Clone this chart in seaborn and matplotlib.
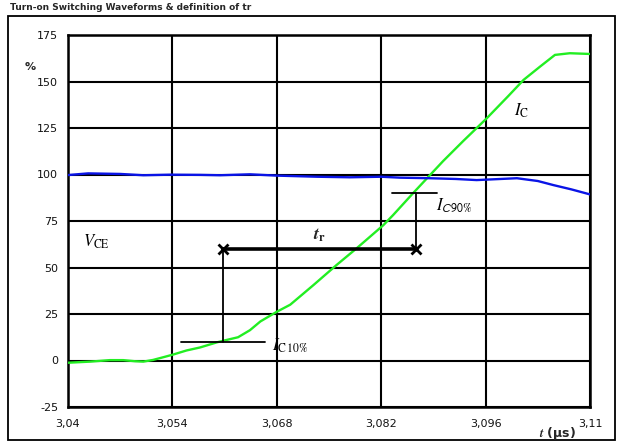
import numpy as np
import pandas as pd
import matplotlib
matplotlib.use("Agg")
import matplotlib.pyplot as plt
from matplotlib.patches import Rectangle
import seaborn as sns

# ---------------- data ----------------
ic_t = [3.0400, 3.0430, 3.0456, 3.0474, 3.0490, 3.0501, 3.0514, 3.0530, 3.0541,
        3.0559, 3.0577, 3.0600, 3.0608, 3.0628, 3.0644, 3.0658, 3.0680, 3.0698,
        3.0729, 3.0760, 3.0787, 3.0823, 3.0836, 3.0864, 3.0885, 3.0903,
        3.0930, 3.0961, 3.0990, 3.1011, 3.1033, 3.1053, 3.1073, 3.1100]
ic_v = [-1.2, -0.6, 0.2, 0.2, -0.4, -0.6, 0.3, 2.0, 3.2,
        5.4, 7.0, 9.8, 10.6, 12.5, 16.3, 21.0, 26.2, 30.0,
        40.5, 51.3, 60.3, 72.8, 78.2, 90.5, 99.5, 107.2,
        118.0, 130.0, 142.0, 150.9, 158.0, 164.3, 165.2, 164.8]

vce_t = [3.0400, 3.0427, 3.0470, 3.0501, 3.0537, 3.0577, 3.0604, 3.0644, 3.0680,
         3.0734, 3.0778, 3.0820, 3.0845, 3.0885, 3.0920, 3.0948, 3.0975,
         3.1002, 3.1030, 3.1051, 3.1075, 3.1100]
vce_v = [99.7, 100.6, 100.3, 99.6, 99.9, 99.8, 99.6, 100.1, 99.4,
         98.8, 98.5, 98.8, 98.3, 98.0, 97.6, 97.0, 97.5,
         98.0, 96.5, 94.3, 92.0, 89.3]

x_ticks = [3.04, 3.054, 3.068, 3.082, 3.096, 3.11]
x_tick_labels = ["3,04", "3,054", "3,068", "3,082", "3,096", "3,11"]
y_ticks = [-25, 0, 25, 50, 75, 100, 125, 150, 175]

t10 = 3.0608   # I_C = 10 %
t90 = 3.0866   # I_C = 90 %
tr_level = 60
lvl10, lvl90 = 10, 90

# ---------------- figure ----------------
sns.set_theme(style="white")
plt.rcParams["font.family"] = ["DejaVu Sans"]
plt.rcParams["mathtext.fontset"] = "stix"

fig = plt.figure(figsize=(6.24, 4.46), dpi=100)
ax = fig.add_axes([68/624, 1-407/446, (590-68)/624, (407-35)/446])

df_ic = pd.DataFrame({"t": ic_t, "v": ic_v})
df_vce = pd.DataFrame({"t": vce_t, "v": vce_v})
sns.lineplot(data=df_ic, x="t", y="v", ax=ax, color="#22ee22", lw=1.7, zorder=4)
sns.lineplot(data=df_vce, x="t", y="v", ax=ax, color="#0a14e6", lw=1.7, zorder=4)

ax.set_xlim(3.04, 3.11)
ax.set_ylim(-25, 175)
ax.set_xticks(x_ticks)
ax.set_xticklabels(x_tick_labels)
ax.set_yticks(y_ticks)
ax.set_yticklabels([str(v) for v in y_ticks])
ax.grid(True, color="black", lw=1.5)
ax.set_axisbelow(True)
for s in ax.spines.values():
    s.set_color("black")
    s.set_linewidth(1.8)
ax.tick_params(axis="both", which="major", direction="out", length=4, width=1.5,
               color="black", labelsize=8, pad=3, labelcolor="#111111")
ax.tick_params(axis="x", pad=5)
ax.set_xlabel("")
ax.set_ylabel("")

# annotations
k = "black"
ax.plot([3.0552, 3.0664], [lvl10, lvl10], color=k, lw=1.3, zorder=5)
ax.plot([3.0835, 3.0895], [lvl90, lvl90], color=k, lw=1.3, zorder=5)
ax.plot([t10, t10], [lvl10, tr_level], color=k, lw=1.3, zorder=5)
ax.plot([t90, t90], [lvl90, tr_level], color=k, lw=1.3, zorder=5)
ax.plot([t10, t90], [tr_level, tr_level], color=k, lw=2.6, zorder=5)
ax.plot([t10, t90], [tr_level, tr_level], ls="none", marker="x", ms=7, mew=2,
        color=k, zorder=6)

ax.text((t10 + t90) / 2, tr_level + 2.5, r"$\mathbfit{t}_{\mathbf{r}}$",
        ha="center", va="bottom", fontsize=13, zorder=6)
ax.text(3.0673, 8, r"$I_{\mathrm{C\,10\%}}$", ha="left", va="center",
        fontsize=12, color="black", zorder=6)
ax.text(3.0893, 83, r"$I_{\mathsf{C\,90\%}}$", ha="left", va="center",
        fontsize=12, color="black", zorder=6)
ax.text(3.0420, 64, r"$V_{\mathrm{CE}}$", ha="left", va="center",
        fontsize=12, color="black", zorder=6)
ax.text(3.0998, 134, r"$I_{\mathrm{C}}$", ha="left", va="center",
        fontsize=12, color="black", zorder=6)

# labels
fig.text(30/624, 1-67/446, "%", fontsize=8, fontweight="bold", ha="center",
         va="center")
fig.text(576/624, 1-433/446, r"$\mathbfit{t}$ (µs)", fontsize=9,
         fontweight="bold", ha="right", va="center")
fig.text(10/624, 1-7/446, "Turn-on Switching Waveforms & definition of tr",
         fontsize=6.5, fontweight="bold", ha="left", va="center")

# figure frame
fig.patches.append(Rectangle((8/624, 1-440/446), (615-8)/624, (440-16)/446,
                             transform=fig.transFigure, fill=False,
                             edgecolor="black", lw=1.3, zorder=0))

fig.savefig("out.png", dpi=100)
